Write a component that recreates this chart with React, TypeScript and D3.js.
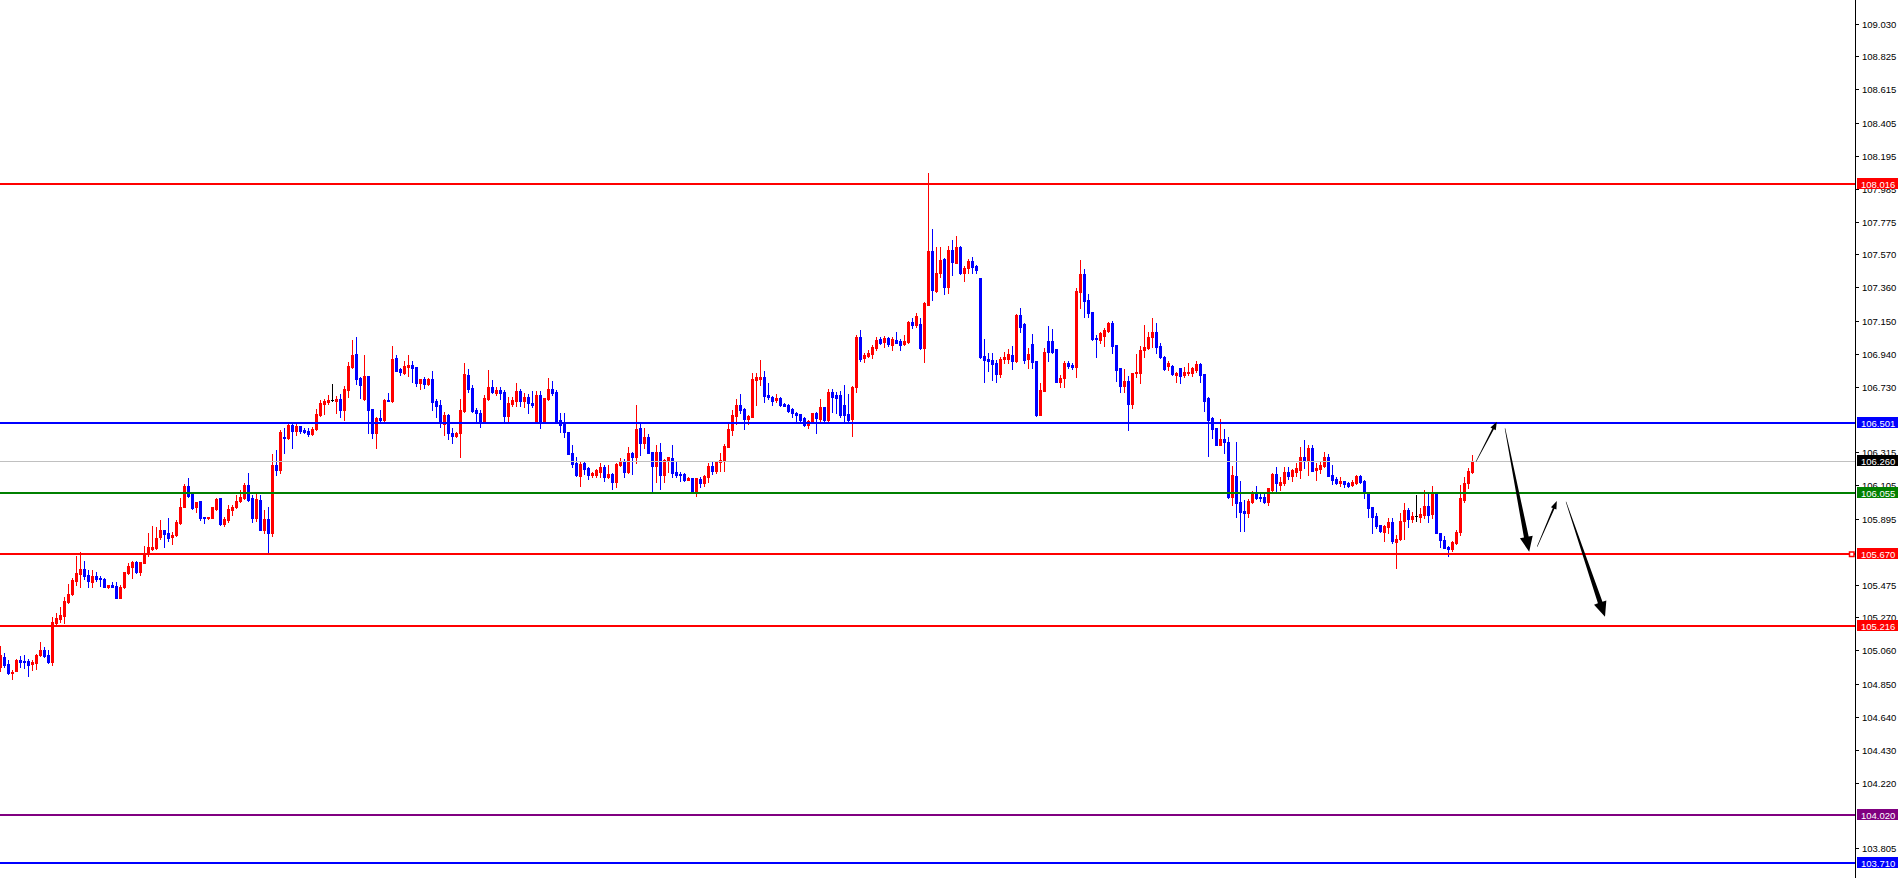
import React, { useEffect } from 'react';
import * as d3 from 'd3';

const W = 1901;
const H = 878;
const AXIS_X = 1855;
const PRICE_TOP = 109.1816;
const PRICE_BOTTOM = 103.6176;
const LAST_INDEX = 368;

const opens = [
  104.957, 105.021, 104.974, 104.915, 104.932, 104.999, 104.993, 104.995, 104.974, 104.978,
  105.029, 105.063, 105.031, 104.987, 105.232, 105.259, 105.280, 105.369, 105.418, 105.502,
  105.544, 105.576, 105.538, 105.496, 105.532, 105.521, 105.513, 105.464, 105.475, 105.468,
  105.394, 105.464, 105.553, 105.591, 105.622, 105.559, 105.616, 105.671, 105.703, 105.707,
  105.777, 105.823, 105.802, 105.777, 105.791, 105.870, 105.967, 106.104, 106.049, 105.967,
  106.009, 105.908, 105.897, 105.901, 105.956, 106.024, 105.861, 105.886, 105.950, 105.967,
  106.009, 106.024, 106.108, 106.024, 105.897, 106.013, 105.823, 105.893, 105.806, 106.235,
  106.203, 106.415, 106.404, 106.488, 106.452, 106.482, 106.457, 106.452, 106.431, 106.461,
  106.552, 106.622, 106.637, 106.647, 106.643, 106.653, 106.584, 106.710, 106.858, 106.938,
  106.784, 106.651, 106.799, 106.588, 106.436, 106.531, 106.520, 106.647, 106.641, 106.911,
  106.841, 106.816, 106.858, 106.869, 106.858, 106.753, 106.780, 106.746, 106.780, 106.643,
  106.615, 106.495, 106.552, 106.440, 106.419, 106.436, 106.580, 106.805, 106.721, 106.584,
  106.562, 106.503, 106.651, 106.727, 106.693, 106.710, 106.695, 106.546, 106.622, 106.641,
  106.706, 106.643, 106.668, 106.630, 106.503, 106.679, 106.503, 106.653, 106.714, 106.700,
  106.520, 106.503, 106.446, 106.313, 106.250, 106.165, 106.245, 106.214, 106.171, 106.171,
  106.193, 106.224, 106.161, 106.178, 106.129, 106.235, 106.262, 106.193, 106.313, 106.287,
  106.467, 106.376, 106.410, 106.319, 106.229, 106.319, 106.171, 106.262, 106.281, 106.193,
  106.178, 106.178, 106.140, 106.155, 106.060, 106.144, 106.119, 106.161, 106.229, 106.199,
  106.256, 106.262, 106.351, 106.457, 106.545, 106.615, 106.590, 106.524, 106.537, 106.774,
  106.778, 106.790, 106.678, 106.668, 106.647, 106.662, 106.619, 106.615, 106.587, 106.562,
  106.558, 106.531, 106.488, 106.509, 106.562, 106.524, 106.600, 106.520, 106.697, 106.676,
  106.678, 106.615, 106.558, 106.524, 106.727, 107.044, 106.911, 106.926, 106.938, 106.974,
  107.031, 107.017, 107.042, 106.996, 107.027, 107.023, 107.002, 107.017, 107.143, 107.122,
  107.129, 106.974, 107.249, 107.593, 107.340, 107.450, 107.538, 107.365, 107.597, 107.517,
  107.619, 107.454, 107.481, 107.528, 107.496, 107.422, 106.926, 106.905, 106.900, 106.884,
  106.812, 106.905, 106.905, 106.932, 106.896, 107.186, 107.129, 106.905, 107.002, 106.896,
  106.552, 106.706, 107.023, 107.021, 106.968, 106.763, 106.784, 106.879, 106.869, 106.858,
  107.334, 107.445, 107.281, 107.202, 107.042, 107.027, 107.053, 107.086, 107.137, 106.996,
  106.848, 106.736, 106.769, 106.622, 106.816, 106.820, 106.964, 106.979, 107.044, 107.080,
  106.989, 106.921, 106.862, 106.862, 106.805, 106.848, 106.805, 106.816, 106.820, 106.837,
  106.875, 106.809, 106.657, 106.531, 106.467, 106.362, 106.400, 106.383, 106.030, 106.165,
  106.003, 105.946, 105.933, 106.003, 106.060, 106.034, 106.034, 106.003, 106.077, 106.178,
  106.108, 106.119, 106.193, 106.165, 106.193, 106.203, 106.288, 106.260, 106.345, 106.203,
  106.207, 106.229, 106.288, 106.172, 106.144, 106.123, 106.136, 106.123, 106.108, 106.119,
  106.165, 106.136, 106.055, 105.967, 105.912, 105.855, 105.813, 105.840, 105.876, 105.749,
  105.764, 105.882, 105.950, 105.891, 105.912, 105.908, 105.918, 105.975, 105.925, 106.066,
  105.802, 105.760, 105.713, 105.701, 105.739, 105.813, 106.013, 106.119, 106.193,
];

const highs = [
  105.088, 105.046, 104.999, 104.936, 105.004, 105.025, 105.031, 105.004, 104.999, 105.037,
  105.113, 105.084, 105.063, 105.274, 105.295, 105.337, 105.401, 105.481, 105.517, 105.658,
  105.686, 105.627, 105.570, 105.570, 105.559, 105.532, 105.517, 105.475, 105.494, 105.496,
  105.475, 105.559, 105.616, 105.627, 105.627, 105.622, 105.722, 105.802, 105.848, 105.844,
  105.886, 105.823, 105.897, 105.813, 105.886, 106.024, 106.112, 106.155, 106.055, 106.003,
  106.009, 105.908, 105.908, 105.967, 106.028, 106.024, 105.908, 105.982, 105.982, 106.045,
  106.077, 106.119, 106.186, 106.045, 106.049, 106.045, 105.950, 105.971, 106.305, 106.330,
  106.455, 106.467, 106.499, 106.503, 106.495, 106.482, 106.467, 106.467, 106.478, 106.588,
  106.647, 106.651, 106.679, 106.748, 106.672, 106.683, 106.736, 106.890, 107.027, 107.048,
  106.795, 106.932, 106.799, 106.588, 106.541, 106.584, 106.651, 106.689, 106.989, 106.932,
  106.848, 106.894, 106.932, 106.894, 106.858, 106.780, 106.795, 106.784, 106.833, 106.651,
  106.647, 106.573, 106.558, 106.467, 106.446, 106.651, 106.879, 106.841, 106.742, 106.594,
  106.584, 106.679, 106.837, 106.774, 106.727, 106.727, 106.710, 106.668, 106.668, 106.752,
  106.714, 106.689, 106.685, 106.706, 106.706, 106.706, 106.657, 106.784, 106.769, 106.710,
  106.567, 106.562, 106.446, 106.362, 106.288, 106.256, 106.256, 106.220, 106.193, 106.207,
  106.250, 106.235, 106.235, 106.182, 106.245, 106.281, 106.271, 106.347, 106.319, 106.615,
  106.499, 106.467, 106.431, 106.319, 106.362, 106.372, 106.271, 106.287, 106.362, 106.256,
  106.193, 106.186, 106.161, 106.155, 106.150, 106.161, 106.171, 106.245, 106.256, 106.262,
  106.309, 106.368, 106.492, 106.583, 106.651, 106.685, 106.594, 106.551, 106.820, 106.820,
  106.900, 106.831, 106.757, 106.672, 106.683, 106.668, 106.626, 106.622, 106.594, 106.573,
  106.558, 106.537, 106.520, 106.566, 106.573, 106.651, 106.605, 106.714, 106.714, 106.700,
  106.704, 106.742, 106.685, 106.736, 107.059, 107.090, 106.947, 106.963, 106.995, 107.048,
  107.044, 107.053, 107.048, 107.044, 107.080, 107.031, 107.059, 107.150, 107.164, 107.196,
  107.164, 107.270, 108.087, 107.728, 107.619, 107.619, 107.545, 107.623, 107.661, 107.686,
  107.623, 107.496, 107.538, 107.555, 107.502, 107.422, 107.031, 106.947, 106.943, 106.900,
  106.921, 106.953, 106.968, 106.989, 107.190, 107.228, 107.133, 106.974, 107.065, 106.896,
  106.757, 106.974, 107.118, 107.097, 106.968, 106.805, 106.896, 106.896, 106.879, 107.355,
  107.534, 107.477, 107.319, 107.207, 107.059, 107.080, 107.105, 107.143, 107.150, 106.996,
  106.848, 106.841, 106.799, 106.820, 106.938, 106.989, 107.122, 107.080, 107.164, 107.137,
  107.010, 106.926, 106.896, 106.869, 106.826, 106.848, 106.858, 106.879, 106.858, 106.896,
  106.884, 106.809, 106.668, 106.541, 106.467, 106.524, 106.461, 106.415, 106.229, 106.383,
  106.136, 106.013, 106.017, 106.072, 106.102, 106.051, 106.051, 106.087, 106.186, 106.224,
  106.161, 106.224, 106.224, 106.207, 106.245, 106.351, 106.393, 106.362, 106.362, 106.250,
  106.256, 106.319, 106.305, 106.235, 106.157, 106.161, 106.136, 106.129, 106.140, 106.172,
  106.172, 106.140, 106.055, 105.967, 105.929, 105.855, 105.855, 105.897, 105.897, 105.791,
  105.929, 105.992, 105.961, 105.939, 106.045, 105.961, 106.077, 106.066, 106.102, 106.066,
  105.806, 105.785, 105.722, 105.756, 105.823, 106.108, 106.161, 106.214, 106.298,
];

const lows = [
  104.932, 104.953, 104.911, 104.877, 104.928, 104.957, 104.947, 104.900, 104.936, 104.940,
  105.025, 105.021, 104.978, 104.968, 105.221, 105.242, 105.232, 105.363, 105.411, 105.475,
  105.460, 105.513, 105.460, 105.464, 105.502, 105.468, 105.464, 105.454, 105.460, 105.394,
  105.394, 105.458, 105.544, 105.521, 105.553, 105.538, 105.612, 105.658, 105.696, 105.701,
  105.764, 105.718, 105.756, 105.734, 105.785, 105.861, 105.967, 106.034, 105.956, 105.939,
  105.886, 105.870, 105.895, 105.901, 105.950, 105.855, 105.848, 105.876, 105.918, 105.960,
  106.003, 106.017, 106.009, 105.876, 105.882, 105.823, 105.806, 105.671, 105.785, 106.172,
  106.182, 106.313, 106.398, 106.345, 106.425, 106.440, 106.440, 106.419, 106.425, 106.457,
  106.546, 106.558, 106.622, 106.643, 106.567, 106.541, 106.520, 106.668, 106.848, 106.748,
  106.662, 106.647, 106.440, 106.408, 106.345, 106.516, 106.516, 106.643, 106.637, 106.833,
  106.805, 106.812, 106.799, 106.763, 106.736, 106.714, 106.721, 106.742, 106.584, 106.541,
  106.474, 106.425, 106.398, 106.377, 106.415, 106.288, 106.573, 106.700, 106.573, 106.510,
  106.478, 106.503, 106.647, 106.689, 106.679, 106.653, 106.516, 106.503, 106.609, 106.609,
  106.609, 106.605, 106.567, 106.600, 106.499, 106.467, 106.503, 106.647, 106.679, 106.499,
  106.446, 106.415, 106.305, 106.224, 106.165, 106.100, 106.178, 106.144, 106.161, 106.157,
  106.161, 106.136, 106.150, 106.081, 106.093, 106.229, 106.157, 106.182, 106.178, 106.245,
  106.298, 106.341, 106.313, 106.072, 106.129, 106.081, 106.129, 106.193, 106.161, 106.161,
  106.136, 106.136, 106.140, 106.055, 106.041, 106.097, 106.102, 106.129, 106.178, 106.186,
  106.199, 106.199, 106.347, 106.425, 106.492, 106.566, 106.463, 106.492, 106.537, 106.615,
  106.742, 106.636, 106.651, 106.615, 106.636, 106.609, 106.609, 106.573, 106.537, 106.509,
  106.516, 106.482, 106.471, 106.503, 106.440, 106.516, 106.516, 106.509, 106.573, 106.566,
  106.541, 106.499, 106.516, 106.419, 106.695, 106.896, 106.890, 106.917, 106.911, 106.963,
  107.002, 106.985, 106.989, 106.964, 107.006, 106.964, 106.996, 107.010, 107.101, 107.112,
  106.968, 106.890, 107.249, 107.281, 107.334, 107.428, 107.319, 107.327, 107.439, 107.517,
  107.445, 107.403, 107.454, 107.454, 107.454, 106.911, 106.763, 106.833, 106.774, 106.763,
  106.795, 106.879, 106.884, 106.841, 106.890, 107.080, 106.879, 106.848, 106.848, 106.546,
  106.552, 106.706, 106.896, 106.947, 106.763, 106.731, 106.731, 106.848, 106.841, 106.795,
  107.228, 107.175, 107.175, 107.027, 106.922, 107.006, 106.989, 107.080, 106.947, 106.769,
  106.700, 106.700, 106.457, 106.594, 106.795, 106.757, 106.917, 106.968, 106.985, 106.947,
  106.911, 106.837, 106.837, 106.805, 106.763, 106.757, 106.795, 106.805, 106.799, 106.826,
  106.763, 106.579, 106.292, 106.404, 106.362, 106.362, 106.309, 106.024, 105.982, 105.908,
  105.819, 105.819, 105.908, 105.996, 106.017, 106.009, 105.996, 105.982, 106.072, 106.066,
  106.077, 106.108, 106.144, 106.136, 106.165, 106.150, 106.214, 106.171, 106.197, 106.140,
  106.182, 106.224, 106.165, 106.115, 106.115, 106.102, 106.093, 106.093, 106.102, 106.115,
  106.123, 106.024, 105.908, 105.806, 105.834, 105.813, 105.756, 105.802, 105.743, 105.580,
  105.760, 105.764, 105.840, 105.876, 105.882, 105.876, 105.897, 105.876, 105.897, 105.802,
  105.713, 105.707, 105.658, 105.692, 105.734, 105.791, 106.003, 106.087, 106.182,
];

const closes = [
  105.031, 104.968, 104.915, 104.926, 104.999, 104.989, 104.989, 104.968, 104.985, 105.031,
  105.063, 105.025, 104.987, 105.240, 105.263, 105.285, 105.375, 105.418, 105.506, 105.549,
  105.576, 105.532, 105.500, 105.532, 105.515, 105.511, 105.464, 105.475, 105.464, 105.394,
  105.464, 105.557, 105.597, 105.622, 105.559, 105.622, 105.675, 105.713, 105.718, 105.775,
  105.823, 105.798, 105.770, 105.791, 105.876, 105.971, 106.104, 106.041, 105.965, 106.001,
  105.901, 105.897, 105.906, 105.967, 106.022, 105.861, 105.893, 105.956, 105.971, 106.009,
  106.034, 106.108, 106.013, 105.897, 106.017, 105.823, 105.893, 105.806, 106.235, 106.203,
  106.446, 106.404, 106.488, 106.452, 106.482, 106.452, 106.446, 106.431, 106.461, 106.558,
  106.626, 106.641, 106.647, 106.647, 106.653, 106.584, 106.717, 106.862, 106.932, 106.780,
  106.742, 106.799, 106.584, 106.436, 106.531, 106.520, 106.647, 106.643, 106.905, 106.833,
  106.826, 106.862, 106.869, 106.848, 106.753, 106.780, 106.748, 106.780, 106.637, 106.609,
  106.499, 106.552, 106.440, 106.419, 106.440, 106.584, 106.812, 106.714, 106.579, 106.562,
  106.503, 106.657, 106.727, 106.695, 106.710, 106.689, 106.546, 106.630, 106.647, 106.706,
  106.643, 106.668, 106.626, 106.615, 106.679, 106.503, 106.657, 106.714, 106.689, 106.503,
  106.488, 106.446, 106.305, 106.241, 106.172, 106.239, 106.207, 106.171, 106.182, 106.203,
  106.224, 106.161, 106.178, 106.129, 106.239, 106.262, 106.193, 106.313, 106.283, 106.465,
  106.376, 106.410, 106.313, 106.229, 106.319, 106.171, 106.266, 106.283, 106.182, 106.171,
  106.171, 106.140, 106.155, 106.060, 106.150, 106.123, 106.167, 106.231, 106.199, 106.260,
  106.266, 106.355, 106.461, 106.551, 106.615, 106.583, 106.524, 106.545, 106.778, 106.790,
  106.790, 106.674, 106.664, 106.640, 106.662, 106.615, 106.609, 106.579, 106.562, 106.552,
  106.520, 106.488, 106.514, 106.562, 106.531, 106.600, 106.520, 106.697, 106.668, 106.657,
  106.552, 106.552, 106.520, 106.727, 107.044, 106.904, 106.932, 106.942, 106.980, 107.027,
  107.010, 107.042, 107.000, 107.031, 107.010, 106.996, 107.023, 107.143, 107.122, 107.179,
  106.974, 107.259, 107.593, 107.344, 107.454, 107.534, 107.365, 107.597, 107.523, 107.614,
  107.450, 107.485, 107.528, 107.488, 107.471, 106.917, 106.900, 106.896, 106.875, 106.812,
  106.905, 106.917, 106.938, 106.896, 107.186, 107.112, 106.900, 106.938, 106.890, 106.552,
  106.710, 106.953, 106.953, 106.953, 106.763, 106.784, 106.884, 106.862, 106.854, 107.338,
  107.445, 107.274, 107.200, 107.031, 107.036, 107.069, 107.090, 107.137, 106.989, 106.837,
  106.736, 106.769, 106.622, 106.820, 106.826, 106.964, 106.985, 107.048, 107.080, 106.985,
  106.917, 106.841, 106.879, 106.812, 106.820, 106.799, 106.826, 106.826, 106.848, 106.875,
  106.805, 106.643, 106.520, 106.461, 106.362, 106.400, 106.383, 106.030, 106.172, 105.996,
  105.939, 105.933, 106.009, 106.060, 106.024, 106.024, 106.003, 106.087, 106.178, 106.119,
  106.129, 106.193, 106.165, 106.203, 106.214, 106.288, 106.260, 106.345, 106.197, 106.214,
  106.235, 106.288, 106.165, 106.140, 106.119, 106.136, 106.115, 106.102, 106.129, 106.165,
  106.129, 106.056, 105.961, 105.908, 105.848, 105.819, 105.848, 105.876, 105.756, 105.764,
  105.882, 105.950, 105.891, 105.912, 105.912, 105.925, 105.975, 105.918, 106.066, 105.802,
  105.760, 105.707, 105.701, 105.749, 105.813, 106.024, 106.123, 106.199, 106.260,
];

const tickLabels = [
  '109.030', '108.825', '108.615', '108.405', '108.195', '107.985', '107.775', '107.570',
  '107.360', '107.150', '106.940', '106.730', '106.315', '106.105', '105.895', '105.475',
  '105.270', '105.060', '104.850', '104.640', '104.430', '104.220', '103.805',
];

const levelValues = [108.016, 106.501, 106.26, 106.055, 105.67, 105.216, 104.02, 103.71];
const levelLabels = ['108.016', '106.501', '106.260', '106.055', '105.670', '105.216', '104.020', '103.710'];
const levelKinds = ['resRed', 'blue', 'price', 'green', 'alertRed', 'resRed', 'purple', 'blue'];

// arrows: [fromIndex, fromPrice, toIndex, toPrice]
const arrowFrom = [[369.0, 106.256], [376.25, 106.467], [384.3, 105.717], [391.5, 106.002]];
const arrowTo = [[374.2, 106.509], [382.3, 105.685], [389.2, 106.007], [401.25, 105.273]];
const arrowKinds = ['thin', 'thick', 'thin', 'thick'];

const KIND_STYLE: Record<string, { color: string; width: number; box: string }> = {
  resRed: { color: '#ff0000', width: 2, box: '#ff0000' },
  alertRed: { color: '#ff0000', width: 2, box: '#ff0000' },
  blue: { color: '#0000ff', width: 2, box: '#0000ff' },
  price: { color: '#c0c0c0', width: 1, box: '#000000' },
  green: { color: '#008000', width: 2, box: '#008000' },
  purple: { color: '#800080', width: 2, box: '#800080' },
};

const ARROW_STYLE: Record<string, { w1: number; hw: number; hl: number }> = {
  thin: { w1: 0.9, hw: 3, hl: 8 },
  thick: { w1: 2.4, hw: 6.5, hl: 15 },
};

const FONT = '"Liberation Sans", Arial, sans-serif';

export default function App() {
  useEffect(() => {
    document.body.style.margin = '0';
    document.body.style.background = '#ffffff';
  }, []);

  const y = d3.scaleLinear().domain([PRICE_BOTTOM, PRICE_TOP]).range([H, 0]);
  const x = d3.scaleLinear().domain([0, LAST_INDEX]).range([0, LAST_INDEX * 4]);

  const candles = closes.map((c, i) => {
    const o = opens[i];
    const hi = Math.max(highs[i], o, c);
    const lo = Math.min(lows[i], o, c);
    const color = c > o ? '#ff0000' : c < o ? '#0000ff' : '#000000';
    const cx = Math.round(x(i));
    const bTop = Math.round(y(Math.max(o, c)));
    const bBot = Math.round(y(Math.min(o, c)));
    const wTop = Math.round(y(hi));
    const wBot = Math.round(y(lo));
    return (
      <g key={i} fill={color}>
        <rect x={cx} y={wTop} width={1} height={Math.max(1, wBot - wTop + 1)} />
        <rect x={cx - 1} y={bTop} width={3} height={Math.max(1, bBot - bTop + 1)} />
      </g>
    );
  });

  const arrows = arrowFrom.map((f, k) => {
    const t = arrowTo[k];
    const st = ARROW_STYLE[arrowKinds[k]];
    const x0 = x(f[0]), y0 = y(f[1]);
    const x1 = x(t[0]), y1 = y(t[1]);
    const dx = x1 - x0, dy = y1 - y0;
    const len = Math.hypot(dx, dy);
    const ux = dx / len, uy = dy / len;
    const nx = -uy, ny = ux;
    const bx = x1 - ux * st.hl, by = y1 - uy * st.hl;
    const w0 = 0.25;
    const pts = [
      [x0 + nx * w0, y0 + ny * w0],
      [bx + nx * st.w1, by + ny * st.w1],
      [bx + nx * st.hw, by + ny * st.hw],
      [x1, y1],
      [bx - nx * st.hw, by - ny * st.hw],
      [bx - nx * st.w1, by - ny * st.w1],
      [x0 - nx * w0, y0 - ny * w0],
    ];
    return <polygon key={k} points={pts.map((p) => p.join(',')).join(' ')} fill="#000000" />;
  });

  return (
    <svg
      width={W}
      height={H}
      style={{ position: 'absolute', left: 0, top: 0, display: 'block', background: '#ffffff' }}
    >
      <rect x={0} y={0} width={W} height={H} fill="#ffffff" />
      <g shapeRendering="crispEdges">{candles}</g>
      <g shapeRendering="crispEdges">
        {levelValues.map((v, k) => {
          const st = KIND_STYLE[levelKinds[k]];
          const ly = Math.round(y(v));
          return (
            <rect key={k} x={0} y={ly - (st.width === 2 ? 1 : 0)} width={AXIS_X} height={st.width} fill={st.color} />
          );
        })}
      </g>
      <g>{arrows}</g>
      {/* axis */}
      <g shapeRendering="crispEdges">
        <rect x={AXIS_X} y={0} width={1} height={H} fill="#000000" />
        {tickLabels.map((t) => {
          const ty = Math.round(y(+t));
          return (
            <g key={t}>
              <rect x={AXIS_X + 1} y={ty} width={3} height={1} fill="#000000" />
              <text
                x={AXIS_X + 7}
                y={ty + 3.5}
                fontFamily={FONT}
                fontSize={9.5}
                fill="#000000"
                shapeRendering="auto"
              >
                {t}
              </text>
            </g>
          );
        })}
      </g>
      <g>
        {levelValues.map((v, k) => {
          const st = KIND_STYLE[levelKinds[k]];
          const ly = Math.round(y(v));
          return (
            <g key={k}>
              {levelKinds[k] === 'alertRed' && (
                <rect x={AXIS_X - 5.5} y={ly - 2} width={4.5} height={4.5} fill="#ffffff" stroke="#ff0000" strokeWidth={1.5} />
              )}
              <rect x={AXIS_X + 2} y={ly - 6} width={41} height={11} fill={st.box} shapeRendering="crispEdges" />
              <text x={AXIS_X + 6} y={ly + 3.5} fontFamily={FONT} fontSize={9.5} fill="#ffffff">
                {levelLabels[k]}
              </text>
            </g>
          );
        })}
      </g>
    </svg>
  );
}
